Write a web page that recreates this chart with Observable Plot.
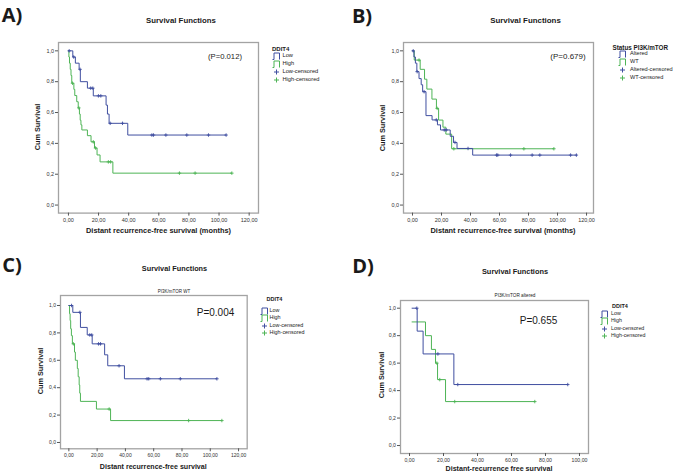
<!DOCTYPE html>
<html><head><meta charset="utf-8">
<script src="https://cdn.jsdelivr.net/npm/d3@7"></script>
<script src="https://cdn.jsdelivr.net/npm/@observablehq/plot@0.6"></script>
<style>
body{margin:0;background:#fff;font-family:"Liberation Sans",Arial,sans-serif;}
#root{position:relative;width:675px;height:476px;overflow:hidden;background:#fff;}
.t{position:absolute;white-space:nowrap;color:#1a1a1a;line-height:1;}
.pnl{position:absolute;}
</style></head><body><div id="root"></div>
<script>
// ---------- DATA ----------
// Tick values and labels
const yTicks = [0, 0.2, 0.4, 0.6, 0.8, 1.0];
const yTickLabels = ["0,0", "0,2", "0,4", "0,6", "0,8", "1,0"];
const xTicks120 = [0, 20, 40, 60, 80, 100, 120];
const xTickLabels120 = ["0,00", "20,00", "40,00", "60,00", "80,00", "100,00", "120,00"];
const xTicks100 = [0, 20, 40, 60, 80, 100];
const xTickLabels100 = ["0,00", "20,00", "40,00", "60,00", "80,00", "100,00"];

// Panel A: DDIT4 (all)
const aLowTimes = [0, 2.9, 4.6, 7.1, 7.9, 12.6, 16.5, 25.0, 25.9, 27.0, 39.4];
const aLowSurv  = [1, 0.96, 0.92, 0.88, 0.80, 0.758, 0.708, 0.648, 0.59, 0.53, 0.454];
const aLowCens  = [0.5, 3.5, 7.7, 14.8, 16.2, 19.9, 21.5, 27.7, 35.9, 55.4, 56.5, 64.7, 78.6, 93.0, 104.7];
const aHighTimes = [0, 0.3, 0.7, 1.2, 1.7, 2.2, 3.6, 4.2, 5.5, 6.5, 7.3, 7.8, 8.3, 8.9, 12.6, 15.0, 17.3, 19.0, 21.0, 29.5];
const aHighSurv  = [1, 0.96, 0.92, 0.88, 0.84, 0.79, 0.75, 0.71, 0.67, 0.63, 0.59, 0.55, 0.52, 0.487, 0.45, 0.41, 0.37, 0.325, 0.28, 0.207];
const aHighCens  = [2.7, 6.9, 16.5, 18.0, 26.5, 28.0, 73.7, 84.1, 108.5];

// Panel B: Status PI3K/mTOR
const bAltTimes = [0, 1.0, 2.0, 3.0, 4.5, 6.0, 7.0, 9.3, 13.5, 17.2, 19.3, 26.0, 28.3, 30.7, 41.5];
const bAltSurv  = [1, 0.96, 0.92, 0.865, 0.82, 0.78, 0.735, 0.58, 0.552, 0.52, 0.487, 0.446, 0.406, 0.367, 0.324];
const bAltCens  = [0.5, 3.2, 8.0, 16.4, 21.9, 23.3, 29.3, 38.3, 57.9, 58.8, 67.6, 82.5, 87.8, 109.0, 113.0];
const bWtTimes = [0, 1.2, 5.3, 8.3, 9.9, 13.4, 16.5, 18.0, 21.0, 23.0, 27.0];
const bWtSurv  = [1, 0.94, 0.88, 0.816, 0.752, 0.687, 0.627, 0.551, 0.505, 0.46, 0.365];
const bWtCens  = [4.5, 17.0, 28.5, 76.8, 97.5];

// Panel C: DDIT4, PI3K/mTOR WT
const cLowTimes = [0, 2.8, 8.2, 13.0, 16.5, 25.3, 27.5, 39.3];
const cLowSurv  = [1, 0.95, 0.84, 0.785, 0.72, 0.64, 0.56, 0.465];
const cLowCens  = [1.9, 7.8, 14.8, 16.2, 21.0, 22.4, 35.5, 55.3, 56.5, 64.7, 78.8, 104.7];
const cHighTimes = [0, 0.5, 0.9, 1.3, 1.8, 2.5, 4.0, 4.6, 6.0, 6.6, 7.3, 7.7, 8.2, 19.5, 29.5];
const cHighSurv  = [1, 0.94, 0.89, 0.83, 0.78, 0.72, 0.66, 0.60, 0.54, 0.48, 0.42, 0.36, 0.30, 0.244, 0.16];
const cHighCens  = [3.2, 28.5, 84.7, 108.2];

// Panel D: DDIT4, PI3K/mTOR altered
const dLowTimes = [1.5, 4.5, 8.0, 26.1];
const dLowSurv  = [1, 0.833, 0.667, 0.444];
const dLowCens  = [4.3, 16.7, 28.4, 93.1];
const dHighTimes = [1.5, 9.4, 12.9, 15.3, 16.5, 21.2];
const dHighSurv  = [0.9, 0.8, 0.7, 0.6, 0.48, 0.32];
const dHighCens  = [16.1, 17.8, 26.6, 73.7];

// ---------- RENDER ----------
const BLUE = "#3f4ea0", GREEN = "#4db455";
const root = document.getElementById("root");
const FONT = "'Liberation Sans', Arial, sans-serif";

function curve(times, surv, cens) {
  const pts = times.map((t, i) => ({t, s: surv[i]}));
  const end = Math.max(d3.max(cens), d3.max(times));
  pts.push({t: end, s: surv[surv.length - 1]});
  const at = t => { let v = surv[0]; times.forEach((tt, i) => { if (tt <= t) v = surv[i]; }); return v; };
  const cp = cens.map(t => ({t, s: at(t)}));
  return {pts, cp};
}

function text(str, x, y, o = {}) {
  const d = document.createElement("div");
  d.className = "t";
  d.textContent = str;
  d.style.left = x + "px"; d.style.top = y + "px";
  d.style.fontSize = (o.size || 7) + "px";
  d.style.fontWeight = o.bold ? "bold" : "normal";
  let tr = o.anchor === "start" ? "translate(0,-50%)" : "translate(-50%,-50%)";
  if (o.rotate) tr += " rotate(-90deg)";
  d.style.transform = tr;
  if (o.family) d.style.fontFamily = o.family;
  root.appendChild(d);
}

function stepIcon(x, y, color) {
  const ns = "http://www.w3.org/2000/svg";
  const s = document.createElementNS(ns, "svg");
  s.setAttribute("width", 9); s.setAttribute("height", 8);
  s.style.position = "absolute"; s.style.left = x + "px"; s.style.top = (y - 4) + "px";
  const p = document.createElementNS(ns, "path");
  p.setAttribute("d", "M0.5,7.5 H2 V1 H7.5 V7.5");
  p.setAttribute("fill", "none"); p.setAttribute("stroke", color); p.setAttribute("stroke-width", "1");
  s.appendChild(p); root.appendChild(s);
}
function plusIcon(x, y, color) {
  const ns = "http://www.w3.org/2000/svg";
  const s = document.createElementNS(ns, "svg");
  s.setAttribute("width", 9); s.setAttribute("height", 8);
  s.style.position = "absolute"; s.style.left = x + "px"; s.style.top = (y - 4) + "px";
  const p = document.createElementNS(ns, "path");
  p.setAttribute("d", "M2,4 H7 M4.5,1.5 V6.5");
  p.setAttribute("fill", "none"); p.setAttribute("stroke", color); p.setAttribute("stroke-width", "1");
  s.appendChild(p); root.appendChild(s);
}

function panel(cfg) {
  const mL = 30, mR = 2, mT = 2, mB = 16;
  const W = (cfg.fr - cfg.fl) + mL + mR, H = (cfg.fb - cfg.ft) + mT + mB;
  const g1 = curve(cfg.g1[0], cfg.g1[1], cfg.g1[2]);
  const g2 = curve(cfg.g2[0], cfg.g2[1], cfg.g2[2]);
  const svg = Plot.plot({
    width: W, height: H, marginLeft: mL, marginRight: mR, marginTop: mT, marginBottom: mB,
    style: {fontFamily: FONT, fontSize: cfg.tickSize + "px", color: "#333", background: "transparent", overflow: "visible"},
    x: {domain: cfg.xd}, y: {domain: cfg.yd},
    marks: [
      Plot.frame({stroke: "#a3a3a3", strokeWidth: 1.3}),
      Plot.axisY(yTicks, {tickFormat: d => yTickLabels[yTicks.indexOf(d)], tickSize: 3, tickPadding: 1.5, label: null, stroke: "#555", fontSize: cfg.tickSize}),
      Plot.axisX(cfg.xt, {tickFormat: d => cfg.xl[cfg.xt.indexOf(d)], tickSize: 3, tickPadding: 2, label: null, stroke: "#555", fontSize: cfg.tickSize}),
      Plot.line(g2.pts, {x: "t", y: "s", curve: "step-after", stroke: GREEN, strokeWidth: 1}),
      Plot.line(g1.pts, {x: "t", y: "s", curve: "step-after", stroke: BLUE, strokeWidth: 1}),
      Plot.dot(g2.cp, {x: "t", y: "s", symbol: "plus", r: 1.2, stroke: GREEN, strokeWidth: 0.9}),
      Plot.dot(g1.cp, {x: "t", y: "s", symbol: "plus", r: 1.2, stroke: BLUE, strokeWidth: 0.9})
    ]
  });
  const wrap = document.createElement("div");
  wrap.className = "pnl";
  wrap.style.left = (cfg.fl - mL) + "px"; wrap.style.top = (cfg.ft - mT) + "px";
  wrap.appendChild(svg);
  root.appendChild(wrap);
}

// Panel A
panel({fl: 58.3, fr: 258.3, ft: 41.7, fb: 212.3, xd: [-6.6, 126.2], yd: [-0.052, 1.054],
  xt: xTicks120, xl: xTickLabels120, tickSize: 5.5,
  g1: [aLowTimes, aLowSurv, aLowCens], g2: [aHighTimes, aHighSurv, aHighCens]});
// Panel B
panel({fl: 403.3, fr: 593.3, ft: 41.7, fb: 212.3, xd: [-6.2, 124.8], yd: [-0.052, 1.054],
  xt: xTicks120, xl: xTickLabels120, tickSize: 5.5,
  g1: [bAltTimes, bAltSurv, bAltCens], g2: [bWtTimes, bWtSurv, bWtCens]});
// Panel C
panel({fl: 60, fr: 246.7, ft: 295, fb: 448.3, xd: [-5.9, 126.1], yd: [-0.046, 1.073],
  xt: xTicks120, xl: xTickLabels120, tickSize: 5,
  g1: [cLowTimes, cLowSurv, cLowCens], g2: [cHighTimes, cHighSurv, cHighCens]});
// Panel D
panel({fl: 400, fr: 588, ft: 300, fb: 453, xd: [-5.3, 105.3], yd: [-0.058, 1.056],
  xt: xTicks100, xl: xTickLabels100, tickSize: 5.2,
  g1: [dLowTimes, dLowSurv, dLowCens], g2: [dHighTimes, dHighSurv, dHighCens]});

// Panel letters
const LETTER = "'Open Sans', 'Liberation Sans', Arial, sans-serif";
text("A)", 12, 15, {size: 20, bold: true, family: LETTER});
text("B)", 362, 16, {size: 20, bold: true, family: LETTER});
text("C)", 12, 265, {size: 20, bold: true, family: LETTER});
text("D)", 363, 266, {size: 20, bold: true, family: LETTER});

// Titles
text("Survival Functions", 181, 21, {size: 7.8, bold: true});
text("Survival Functions", 525.5, 21, {size: 7.9, bold: true});
text("Survival Functions", 174.5, 268.5, {size: 7.3, bold: true});
text("Survival Functions", 515, 272, {size: 7.4, bold: true});
text("PI3K/mTOR WT", 174, 292, {size: 4.5});
text("PI3K/mTOR altered", 515, 296, {size: 4.7});

// Axis titles
text("Distant recurrence-free survival (months)", 158.5, 230.5, {size: 7.4, bold: true});
text("Distant recurrence-free survival (months)", 503, 230.5, {size: 7.4, bold: true});
text("Distant recurrence-free survival", 153.3, 467.5, {size: 7.1, bold: true});
text("Distant-recurrence free survival", 499, 470, {size: 7.1, bold: true});
text("Cum Survival", 38.3, 127, {size: 7.3, bold: true, rotate: true});
text("Cum Survival", 383, 128, {size: 7.3, bold: true, rotate: true});
text("Cum Survival", 40.7, 371, {size: 7.3, bold: true, rotate: true});
text("Cum Survival", 382.3, 375, {size: 7.3, bold: true, rotate: true});

// P values
text("(P=0.012)", 225, 57, {size: 7.7});
text("(P=0.679)", 568, 57, {size: 8});
text("P=0.004", 215.5, 313, {size: 10});
text("P=0.655", 538.5, 320.5, {size: 10});

// Legends
function legend(x, ytitle, title, tsize, ix, tx, ys, labels, lsize) {
  text(title, x, ytitle, {size: tsize, bold: true, anchor: "start"});
  const cols = [BLUE, GREEN, BLUE, GREEN];
  labels.forEach((lab, i) => {
    if (i < 2) stepIcon(ix, ys[i], cols[i]); else plusIcon(ix, ys[i], cols[i]);
    text(lab, tx, ys[i], {size: lsize, anchor: "start"});
  });
}
legend(272, 48.5, "DDIT4", 6, 271.5, 282.5, [56, 64, 72, 80], ["Low", "High", "Low-censored", "High-censored"], 5.7);
legend(612.5, 47.5, "Status PI3K/mTOR", 6.3, 618, 630, [54, 62, 70, 78], ["Altered", "WT", "Altered-censored", "WT-censored"], 5.6);
legend(266.5, 300, "DDIT4", 5.5, 259.5, 269.5, [310.7, 318.3, 325.7, 333], ["Low", "High", "Low-censored", "High-censored"], 5.4);
legend(612, 306.7, "DDIT4", 5.5, 600, 611, [314, 321.3, 328.7, 336], ["Low", "High", "Low-censored", "High-censored"], 5.3);
</script></body></html>
